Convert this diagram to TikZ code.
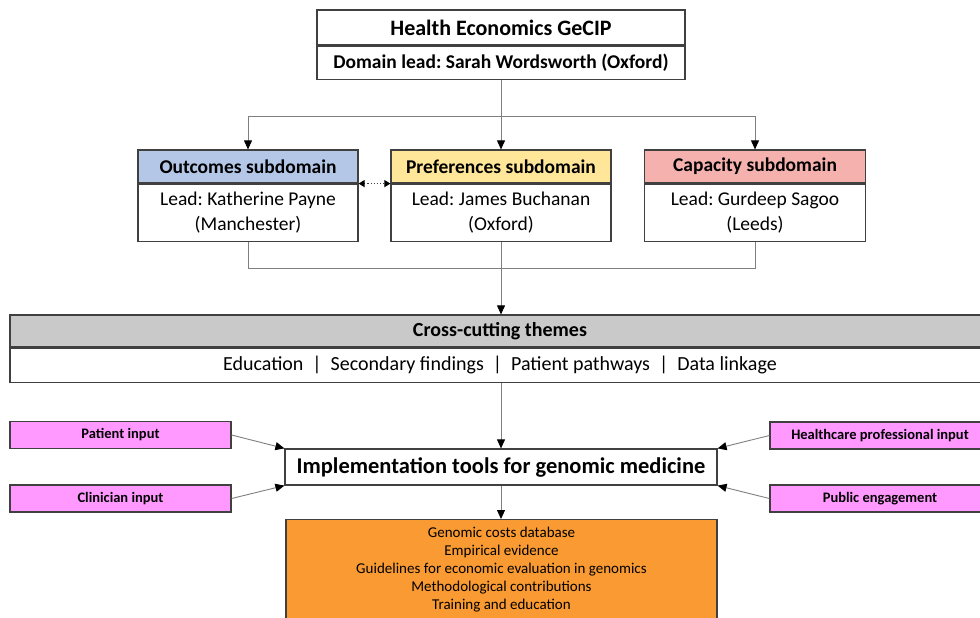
\documentclass[tikz,border=0pt]{standalone}
\usepackage{fontspec}
\setmainfont{Carlito}
\frenchspacing
\usetikzlibrary{arrows.meta,positioning}
\definecolor{hdrblue}{HTML}{B4C7E7}
\definecolor{hdryellow}{HTML}{FFE699}
\definecolor{hdrred}{HTML}{F4B1AE}
\definecolor{hdrgray}{HTML}{C9C9C9}
\definecolor{pinkbox}{HTML}{FF99FF}
\definecolor{orangebox}{HTML}{F99A32}
\definecolor{linegray}{HTML}{7F7F7F}
\definecolor{bordergray}{HTML}{404040}
\tikzset{
  box/.style={draw=bordergray, line width=1.2pt, inner sep=0pt, align=center, text=black},
  conn/.style={draw=linegray, line width=0.9pt},
  arr/.style={conn, -{Triangle[length=9pt,width=8pt,color=black]}},
  pinkstyle/.style={box, fill=pinkbox, minimum width=221pt, minimum height=27pt, font=\fontsize{14.5}{16}\selectfont\bfseries},
}
\begin{document}
\begin{tikzpicture}[x=1pt,y=-1pt]
\useasboundingbox (0,0) rectangle (980,618);
\clip (0,0) rectangle (980,618);
% top box
\node[box, minimum width=368pt, minimum height=35pt, font=\fontsize{22}{24}\selectfont\bfseries] (topH) at (501,27.5) {Health Economics GeCIP};
\node[box, minimum width=368pt, minimum height=33pt, anchor=north, font=\fontsize{19.5}{22}\selectfont\bfseries] (topB) at (topH.south) {Domain lead: Sarah Wordsworth (Oxford)};
% subdomains
\node[box, fill=hdrblue, minimum width=220pt, minimum height=33pt, font=\fontsize{19.5}{22}\selectfont\bfseries] (outH) at (248,166.5) {Outcomes subdomain};
\node[box, minimum width=220pt, minimum height=57pt, anchor=north, font=\fontsize{19.5}{25}\selectfont] (outB) at (outH.south) {Lead: Katherine Payne\\(Manchester)};
\node[box, fill=hdryellow, minimum width=220pt, minimum height=33pt, font=\fontsize{19.5}{22}\selectfont\bfseries] (prefH) at (501,166.5) {Preferences subdomain};
\node[box, minimum width=220pt, minimum height=57pt, anchor=north, font=\fontsize{19.5}{25}\selectfont] (prefB) at (prefH.south) {Lead: James Buchanan\\(Oxford)};
\node[box, fill=hdrred, minimum width=221pt, minimum height=33pt, font=\fontsize{19.5}{22}\selectfont\bfseries] (capH) at (755,166.5) {Capacity subdomain};
\node[box, minimum width=221pt, minimum height=57pt, anchor=north, font=\fontsize{19.5}{25}\selectfont] (capB) at (capH.south) {Lead: Gurdeep Sagoo\\(Leeds)};
% cross-cutting
\node[box, fill=hdrgray, minimum width=1000pt, minimum height=32pt, font=\fontsize{20}{22}\selectfont\bfseries] (crossH) at (510,331) {\hspace*{-20pt}Cross-cutting themes};
\node[box, minimum width=1000pt, minimum height=34pt, anchor=north, font=\fontsize{20}{22}\selectfont] (crossB) at (crossH.south) {\hspace*{-20pt}Education~~|~~Secondary findings~~|~~Patient pathways~~|~~Data linkage};
% implementation
\node[box, minimum width=432pt, minimum height=36pt, font=\fontsize{22.5}{25}\selectfont\bfseries] (impl) at (501,467) {Implementation tools for genomic medicine};
% pink
\node[pinkstyle] (pat) at (120.5,435) {Patient input};
\node[pinkstyle] (clin) at (120.5,498.5) {Clinician input};
\node[pinkstyle, minimum width=240pt] (hcp) at (890,435.5) {\hspace*{-20pt}Healthcare professional input};
\node[pinkstyle, minimum width=240pt] (pub) at (890,498.5) {\hspace*{-20pt}Public engagement};
% orange
\node[box, fill=orangebox, minimum width=431pt, minimum height=100pt, anchor=north, font=\fontsize{15}{17.8}\selectfont] (out) at (501.5,519) {Genomic costs database\\Empirical evidence\\Guidelines for economic evaluation in genomics\\Methodological contributions\\Training and education};
% connectors top
\coordinate (j1) at (501,116);
\draw[conn] (topB.south) -- (j1);
\draw[arr] (j1) -| (outH.north);
\draw[arr] (j1) -| (capH.north);
\draw[arr] (j1) -- (prefH.north);
% dotted double arrow
\draw[draw=bordergray, line width=1.1pt, dotted, {Triangle[length=6pt,width=7pt,color=black]}-{Triangle[length=6pt,width=7pt,color=black]}] (outH.south east) -- (prefH.south west);
% connectors middle
\coordinate (j2) at (501,268);
\draw[conn] (outB.south) |- (j2);
\draw[conn] (capB.south) |- (j2);
\draw[conn] (prefB.south) -- (j2);
\draw[arr] (j2) -- (crossH.north -| j2);
\draw[arr] (crossB.south -| impl.north) -- (impl.north);
% pink arrows
\draw[arr] (pat.east) -- (impl.north west);
\draw[arr] (clin.east) -- (impl.south west);
\draw[arr] (hcp.west) -- (impl.north east);
\draw[arr] (pub.west) -- (impl.south east);
\draw[arr] (impl.south) -- (out.north -| impl.south);
\end{tikzpicture}
\end{document}
